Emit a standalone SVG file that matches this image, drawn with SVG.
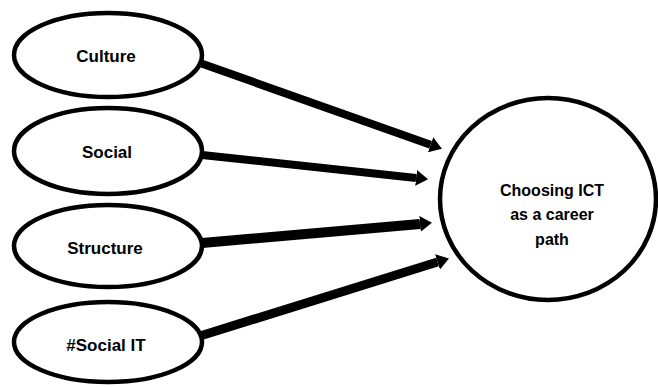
<svg xmlns="http://www.w3.org/2000/svg" width="658" height="387" viewBox="0 0 658 387">
<style>
.node ellipse{fill:#fff;stroke:#000;stroke-width:4.5}
.lbl{font-family:"Liberation Sans",Arial,sans-serif;font-weight:bold;font-size:17px;fill:#000;text-anchor:middle}
.big{font-size:16px}
.conn line{stroke:#000;stroke-linecap:butt;marker-end:url(#ah)}
</style>
<defs>
<marker id="ah" markerUnits="userSpaceOnUse" viewBox="0 0 12 16" markerWidth="12" markerHeight="16" refX="0" refY="8" orient="auto">
<path d="M0,0 L12,8 L0,16 z" fill="#000"/>
</marker>
</defs>
<g class="conn" id="connectors">
<line x1="200" y1="63" x2="430.6" y2="144.7" stroke-width="8"/>
<line x1="202" y1="155" x2="416.1" y2="177.9" stroke-width="8"/>
<line x1="202" y1="243" x2="420" y2="223.9" stroke-width="10"/>
<line x1="200" y1="336" x2="437.5" y2="262" stroke-width="9"/>
</g>
<g class="node" id="culture">
<ellipse cx="108" cy="55" rx="94" ry="42"/>
<text class="lbl" x="106" y="62">Culture</text>
</g>
<g class="node" id="social">
<ellipse cx="108" cy="151" rx="94" ry="43"/>
<text class="lbl" x="107" y="158">Social</text>
</g>
<g class="node" id="structure">
<ellipse cx="108" cy="246" rx="94" ry="41"/>
<text class="lbl" x="105" y="254">Structure</text>
</g>
<g class="node" id="socialit">
<ellipse cx="108" cy="342" rx="94" ry="40"/>
<text class="lbl" x="106" y="351">#Social IT</text>
</g>
<g class="node" id="ict">
<ellipse cx="548" cy="199" rx="108" ry="101"/>
<text class="lbl big" x="552" y="196">Choosing ICT</text>
<text class="lbl big" x="552" y="220">as a career</text>
<text class="lbl big" x="552" y="245">path</text>
</g>
</svg>
